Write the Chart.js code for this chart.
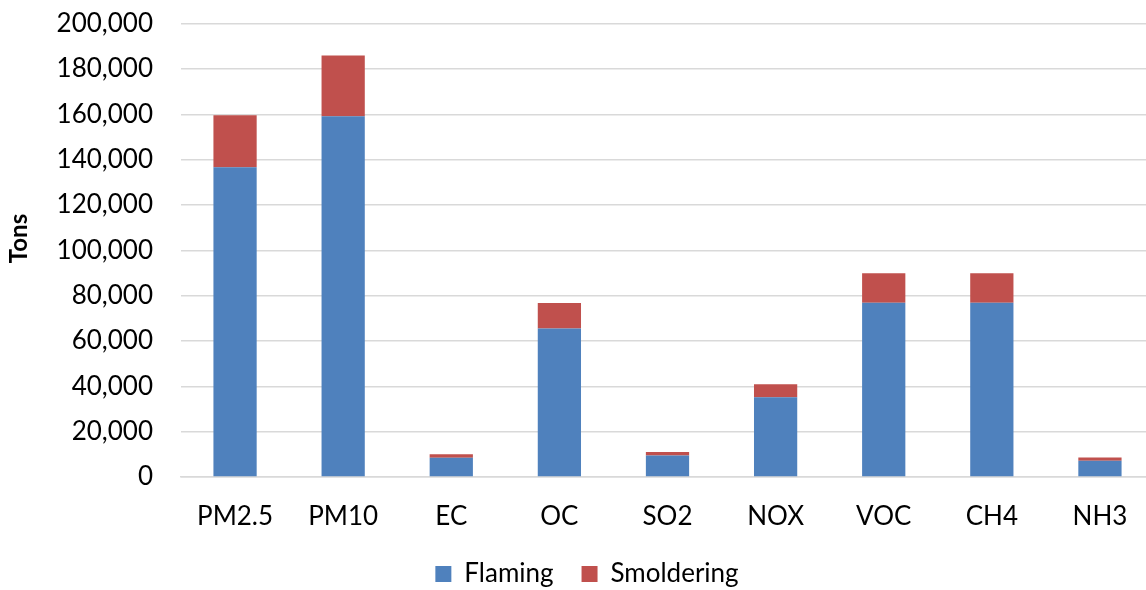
<!DOCTYPE html>
<html>
<head>
<meta charset="utf-8">
<script src="https://cdn.jsdelivr.net/npm/chart.js@4.4.1/dist/chart.umd.min.js"></script>
<style>
  html, body { margin: 0; padding: 0; overflow: hidden; background: #fff; }
  /* canvas is slightly larger than the view; the outer margins are trimmed */
  #wrap { position: relative; top: -20px; width: 1160px; height: 617px; }
</style>
</head>
<body>
<div id="wrap"><canvas id="chart"></canvas></div>
<script>
// Emissions by pollutant, split by combustion phase (tons)
const pollutants = ['PM2.5', 'PM10', 'EC', 'OC', 'SO2', 'NOX', 'VOC', 'CH4', 'NH3'];
const flaming    = [136600, 159100, 8500, 65500, 9450, 35150, 76900, 76900, 7150];
const smoldering = [23000, 26800, 1500, 11200, 1550, 5750, 13000, 13000, 1500];
const yTicks     = [0, 20000, 40000, 60000, 80000, 100000, 120000, 140000, 160000, 180000, 200000];
const yTitle     = 'Tons';

const FONT = 'Lato, "Open Sans", sans-serif';
const GRID = '#d9d9d9';
const VIEW_TOP = 20; // matches the wrapper offset

// Vertical axis title, centred over the visible axis span
const axisTitle = {
  id: 'axisTitle',
  afterDraw(chart) {
    const { ctx, chartArea } = chart;
    ctx.save();
    ctx.translate(19, (VIEW_TOP + chartArea.bottom) / 2);
    ctx.rotate(-Math.PI / 2);
    ctx.font = 'bold 24px ' + FONT;
    ctx.fillStyle = '#000';
    ctx.textAlign = 'center';
    ctx.textBaseline = 'middle';
    ctx.fillText(yTitle, 0, 0);
    ctx.restore();
  }
};

new Chart(document.getElementById('chart'), {
  type: 'bar',
  data: {
    labels: pollutants,
    datasets: [
      { label: 'Flaming', data: flaming, backgroundColor: '#4f81bd', borderWidth: 0 },
      { label: 'Smoldering', data: smoldering, backgroundColor: '#c0504d', borderWidth: 0 }
    ]
  },
  plugins: [axisTitle],
  options: {
    responsive: true,
    maintainAspectRatio: false,
    animation: false,
    layout: { padding: { top: 0, right: 6, left: 20, bottom: 0 } },
    datasets: { bar: { barPercentage: 0.4, categoryPercentage: 1.0 } },
    plugins: {
      tooltip: { enabled: false },
      legend: {
        position: 'bottom',
        labels: {
          font: { family: FONT, size: 26 },
          color: '#000',
          boxWidth: 16,
          boxHeight: 16,
          padding: 28
        }
      }
    },
    scales: {
      x: {
        stacked: true,
        grid: { display: false, drawTicks: false },
        border: { display: true, color: GRID, width: 1.5 },
        ticks: { font: { family: FONT, size: 26 }, color: '#000', padding: 24 },
        afterFit(scale) { scale.height = 56; }
      },
      y: {
        stacked: true,
        min: 0,
        max: 200000,
        afterBuildTicks(scale) { scale.ticks = yTicks.map(v => ({ value: v })); },
        grid: { color: GRID, lineWidth: 1.5, drawTicks: false },
        border: { display: false },
        ticks: {
          font: { family: FONT, size: 26 },
          color: '#000',
          padding: 28,
          callback: v => v.toLocaleString('en-US')
        },
        afterFit(scale) { scale.width = 161; }
      }
    }
  }
});
</script>
</body>
</html>
